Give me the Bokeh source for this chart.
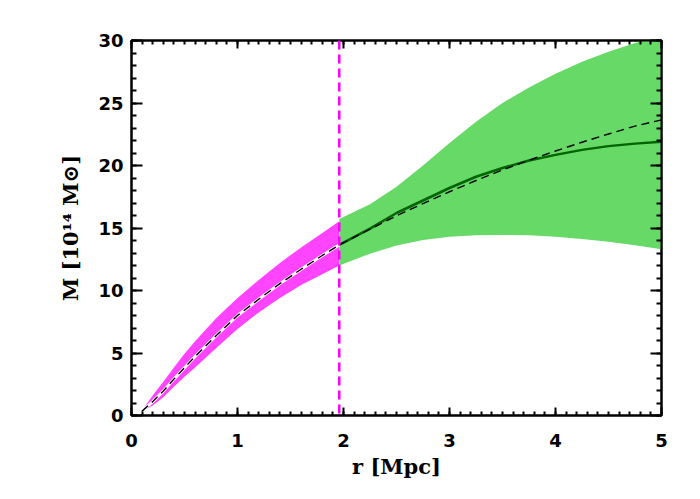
from bokeh.plotting import figure
from bokeh.models import (LinearAxis, SingleIntervalTicker, Span, Range1d,
                          CustomJSTickFormatter)
from bokeh.embed import file_html
from bokeh.resources import INLINE

# ---- data ----
# inner (magenta) band, r < r_split
r_in = [0.085, 0.2, 0.3, 0.4, 0.5, 0.6, 0.8, 1.0, 1.2, 1.4, 1.6, 1.8, 1.96]
m_in_hi = [0.25, 1.6, 2.7, 3.85, 4.95, 5.95, 7.8, 9.4, 10.85, 12.2, 13.45, 14.6, 15.55]
m_in_lo = [0.25, 0.8, 1.47, 2.3, 3.1, 3.85, 5.4, 6.93, 8.25, 9.4, 10.45, 11.3, 12.0]

# outer (green) band, r > r_split
r_out = [1.96, 2.25, 2.5, 2.75, 3.0, 3.25, 3.5, 3.75, 4.0, 4.25, 4.5, 4.75, 5.0]
m_out_hi = [15.73, 16.9, 18.3, 20.0, 21.8, 23.5, 25.0, 26.25, 27.35, 28.3, 29.1, 29.8, 30.4]
m_out_lo = [12.0, 12.95, 13.6, 14.05, 14.3, 14.42, 14.45, 14.42, 14.3, 14.12, 13.9, 13.62, 13.3]
m_out_mid = [13.65, 14.95, 16.2, 17.2, 18.2, 19.1, 19.8, 20.4, 20.85, 21.25, 21.55, 21.75, 21.9]

# dashed reference profile
r_ref = [0.1, 0.2, 0.3, 0.4, 0.5, 0.6, 0.8, 1.0, 1.2, 1.4, 1.6, 1.8, 1.96,
         2.25, 2.5, 2.75, 3.0, 3.25, 3.5, 3.75, 4.0, 4.25, 4.5, 4.75, 5.0]
m_ref = [0.35, 1.11, 1.95, 2.91, 3.82, 4.72, 6.4, 8.0, 9.3, 10.55, 11.7, 12.8, 13.65,
         14.9, 15.98, 16.95, 17.9, 18.8, 19.64, 20.43, 21.16, 21.86, 22.52, 23.15, 23.65]

r_split = 1.96

x_ticks_interval = 1
y_ticks_interval = 5
x_label = "r [Mpc]"
y_label = "M [10\u00b9\u2074 M\u2299]"

# ---- figure ----
p = figure(width=692, height=491, x_range=Range1d(0, 5), y_range=Range1d(0, 30),
           output_backend="svg", toolbar_location=None,
           min_border_left=131, min_border_right=31,
           min_border_top=40, min_border_bottom=76,
           x_axis_type=None, y_axis_type=None)
p.xgrid.visible = False
p.ygrid.visible = False
p.outline_line_color = "black"
p.outline_line_width = 2
p.background_fill_color = "white"
p.border_fill_color = "white"

tick_font = "DejaVu Sans"
label_font = "DejaVu Serif"


def make_axis(kind, show_labels):
    if kind == "x":
        ticker = SingleIntervalTicker(interval=x_ticks_interval, num_minor_ticks=10)
        major, minor = 8, 4
    else:
        ticker = SingleIntervalTicker(interval=y_ticks_interval, num_minor_ticks=5)
        major, minor = 11, 5
    ax = LinearAxis(ticker=ticker)
    ax.axis_line_width = 2
    ax.major_tick_line_width = 2
    ax.minor_tick_line_width = 2
    ax.major_tick_in = major
    ax.major_tick_out = 0
    ax.minor_tick_in = minor
    ax.minor_tick_out = 0
    ax.major_label_text_font = tick_font
    ax.major_label_text_font_size = "18px"
    ax.major_label_text_font_style = "bold"
    ax.major_label_text_color = "black"
    if not show_labels:
        ax.formatter = CustomJSTickFormatter(code="return ''")
        ax.major_label_standoff = 0
    return ax


xb = make_axis("x", True)
xb.axis_label = x_label
xb.major_label_standoff = 18
xb.axis_label_standoff = 4
xb.axis_label_text_font = label_font
xb.axis_label_text_font_size = "21px"
xb.axis_label_text_font_style = "bold"
xb.axis_label_text_color = "black"
p.add_layout(xb, "below")

yl = make_axis("y", True)
yl.axis_label = y_label
yl.major_label_standoff = 8
yl.axis_label_standoff = 12
yl.axis_label_text_font = label_font
yl.axis_label_text_font_size = "21px"
yl.axis_label_text_font_style = "bold"
yl.axis_label_text_color = "black"
p.add_layout(yl, "left")

p.add_layout(make_axis("x", False), "above")
p.add_layout(make_axis("y", False), "right")

# ---- bands and curves ----
p.varea(x=r_in, y1=m_in_lo, y2=m_in_hi, fill_color="#FF44FF")
p.varea(x=r_out, y1=m_out_lo, y2=m_out_hi, fill_color="#66D966")

r_ref_in = [r for r in r_ref if r <= r_split]
m_ref_in = [m for r, m in zip(r_ref, m_ref) if r <= r_split]
p.line(r_ref_in, m_ref_in, line_color="white", line_width=3)

p.line(r_out, m_out_mid, line_color="#006400", line_width=2.5)
p.line(r_ref, m_ref, line_color="black", line_width=1.4, line_dash="8 5")

p.add_layout(Span(location=r_split, dimension="height", line_color="#FF00FF",
                  line_width=2.5, line_dash="9 5"))

open("out.html", "w").write(file_html(p, INLINE))
